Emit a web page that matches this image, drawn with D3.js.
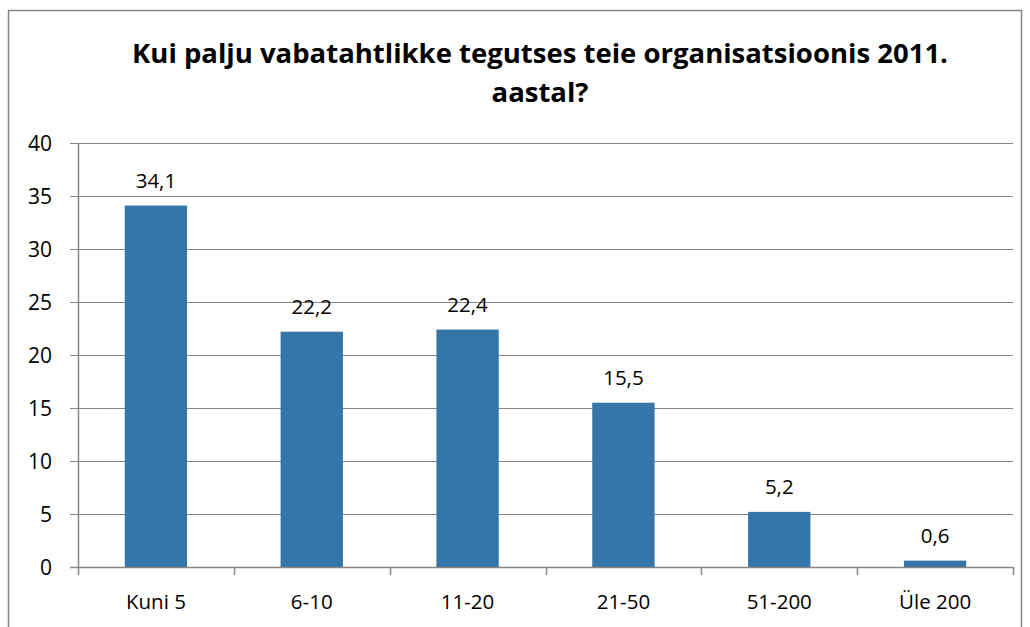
<!DOCTYPE html>
<html>
<head>
<meta charset="utf-8">
<script src="https://cdn.jsdelivr.net/npm/d3@7"></script>
<style>
  body { margin: 0; background: #fff; }
  svg { font-family: "Open Sans", "Noto Sans", sans-serif; }
</style>
</head>
<body>
<div id="chart"></div>
<script>
var categories = ["Kuni 5", "6-10", "11-20", "21-50", "51-200", "Üle 200"];
var values = [34.1, 22.2, 22.4, 15.5, 5.2, 0.6];
var yTicks = [0, 5, 10, 15, 20, 25, 30, 35, 40];
var titleLines = ["Kui palju vabatahtlikke tegutses teie organisatsioonis 2011.", "aastal?"];

var width = 1030, height = 627;
var margin = {top: 143, right: 17, bottom: 60, left: 78};

var svg = d3.select("#chart").append("svg")
    .attr("width", width)
    .attr("height", height);

// chart frame
svg.append("rect")
    .attr("x", 8.5).attr("y", 10.5)
    .attr("width", 1013).attr("height", 630)
    .attr("fill", "none")
    .attr("stroke", "#868686")
    .attr("stroke-width", 1.5);

var x = d3.scaleBand()
    .domain(categories)
    .range([margin.left, width - margin.right]);

var y = d3.scaleLinear()
    .domain([0, 40])
    .range([567, margin.top]);

// title
svg.append("g").selectAll("text")
    .data(titleLines)
    .enter().append("text")
    .attr("x", 540)
    .attr("y", function(d, i) { return 63 + i * 39; })
    .attr("text-anchor", "middle")
    .attr("font-size", 27.5)
    .attr("font-weight", "bold")
    .attr("fill", "#000")
    .text(function(d) { return d; });

// gridlines
svg.append("g").selectAll("line")
    .data(yTicks)
    .enter().append("line")
    .attr("x1", margin.left - 8)
    .attr("x2", width - margin.right)
    .attr("y1", function(d) { return Math.round(y(d)) + 0.5; })
    .attr("y2", function(d) { return Math.round(y(d)) + 0.5; })
    .attr("stroke", "#868686")
    .attr("stroke-width", 1.2);

// y axis line
svg.append("line")
    .attr("x1", margin.left + 0.5).attr("x2", margin.left + 0.5)
    .attr("y1", margin.top).attr("y2", 567)
    .attr("stroke", "#868686")
    .attr("stroke-width", 1.5);

// y labels
svg.append("g").selectAll("text")
    .data(yTicks)
    .enter().append("text")
    .attr("x", 52)
    .attr("y", function(d) { return y(d); })
    .attr("dy", "0.36em")
    .attr("text-anchor", "end")
    .attr("font-size", 21)
    .attr("fill", "#000")
    .text(function(d) { return d; });

// x ticks
var xTickPos = categories.map(function(c) { return x(c); }).concat([width - margin.right]);
svg.append("g").selectAll("line")
    .data(xTickPos)
    .enter().append("line")
    .attr("x1", function(d) { return Math.round(d) + 0.5; })
    .attr("x2", function(d) { return Math.round(d) + 0.5; })
    .attr("y1", 567).attr("y2", 575)
    .attr("stroke", "#868686")
    .attr("stroke-width", 1.5);

// bars
var barW = x.bandwidth() * 0.4;
svg.append("g").selectAll("rect")
    .data(values)
    .enter().append("rect")
    .attr("x", function(d, i) { return x(categories[i]) + (x.bandwidth() - barW) / 2; })
    .attr("y", function(d) { return y(d); })
    .attr("width", barW)
    .attr("height", function(d) { return 567 - y(d); })
    .attr("fill", "#3575a8");

// x axis line on top of bars
svg.append("line")
    .attr("x1", margin.left - 8).attr("x2", width - margin.right)
    .attr("y1", 567.5).attr("y2", 567.5)
    .attr("stroke", "#868686")
    .attr("stroke-width", 1.5);

// value labels
svg.append("g").selectAll("text")
    .data(values)
    .enter().append("text")
    .attr("x", function(d, i) { return x(categories[i]) + x.bandwidth() / 2; })
    .attr("y", function(d) { return y(d) - 18; })
    .attr("text-anchor", "middle")
    .attr("font-size", 20.5)
    .attr("fill", "#000")
    .text(function(d) { return String(d).replace(".", ","); });

// x labels
svg.append("g").selectAll("text")
    .data(categories)
    .enter().append("text")
    .attr("x", function(d) { return x(d) + x.bandwidth() / 2; })
    .attr("y", 609)
    .attr("text-anchor", "middle")
    .attr("font-size", 20.5)
    .attr("fill", "#000")
    .text(function(d) { return d; });
</script>
</body>
</html>
